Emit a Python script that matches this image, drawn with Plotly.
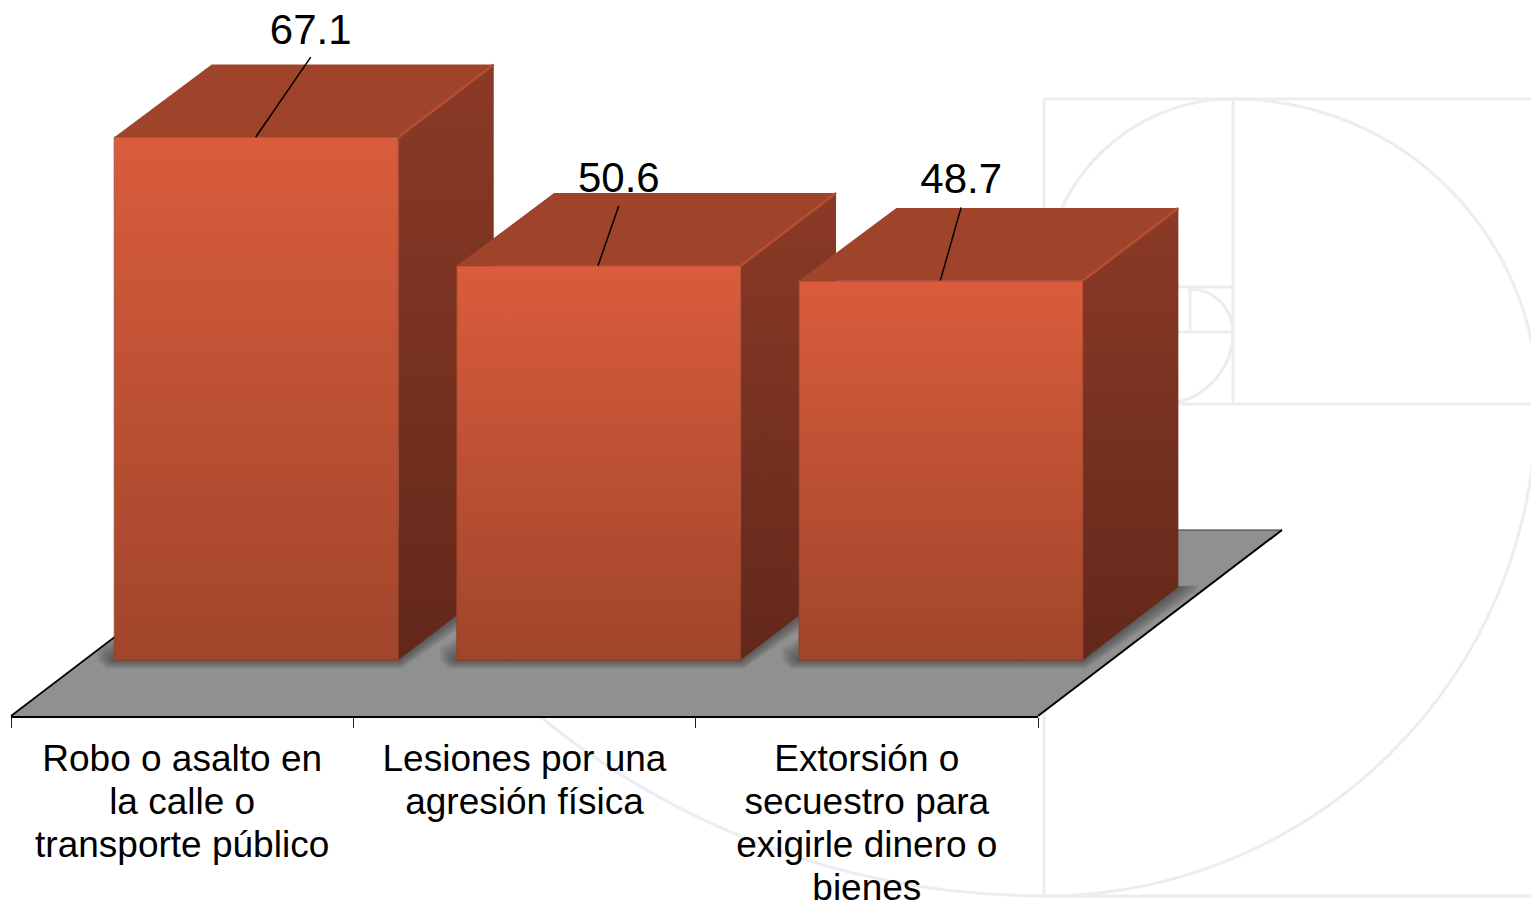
import plotly.graph_objects as go

# ---- data ----
categories = ["Robo o asalto en\nla calle o\ntransporte público",
              "Lesiones por una\nagresión física",
              "Extorsión o\nsecuestro para\nexigirle dinero o\nbienes"]
values = [67.1, 50.6, 48.7]
value_labels = ["67.1", "50.6", "48.7"]

# ---- figure frame ----
W, H = 1531, 902
X_PX = 342.33          # pixels per category
Y_PX = 7.79            # pixels per value unit
FLOOR_DX = 244 / X_PX   # oblique depth of the floor, in axis units
FLOOR_DY = 186 / Y_PX
BAR_HALF = 142 / X_PX
BAR_SHIFT = 0.7 / X_PX
BACK_INSET = 2 / X_PX   # slight perspective on the back-left corner of each top face
BAR_D0, BAR_D1 = 0.301, 0.692
L, R = -0.5, 2.5

# leader line end and label offset from each bar's front-top centre
leader_dx = [0.161, 0.061, 0.061]
leader_dy = [10.3, 7.7, 9.4]
label_dy = [3.0, 3.1, 3.2]


def proj(x, v, d):
    """Oblique projection: category x, value v, depth d (0 front .. 1 back)."""
    return x + d * FLOOR_DX, v + (d - BAR_D0) * FLOOR_DY


def poly(pts, **kw):
    xs = [p[0] for p in pts] + [pts[0][0]]
    ys = [p[1] for p in pts] + [pts[0][1]]
    return go.Scatter(x=xs, y=ys, mode="lines", fill="toself",
                      hoverinfo="skip", showlegend=False, **kw)


def line(pts, color, width):
    return go.Scatter(x=[p[0] for p in pts], y=[p[1] for p in pts], mode="lines",
                      line=dict(color=color, width=width),
                      hoverinfo="skip", showlegend=False)


def grad(top, bottom):
    return dict(type="vertical", colorscale=[[0, bottom], [1, top]])


fig = go.Figure()

# floor
fl = [proj(L, 0, 0), proj(R, 0, 0), proj(R, 0, 1), proj(L, 0, 1)]
fig.add_trace(poly(fl, fillcolor="#909090", line=dict(width=0)))
fig.add_trace(line([fl[3], fl[2]], "#3a3a3a", 1))
fig.add_trace(line([fl[0], fl[3]], "#000000", 1.6))
fig.add_trace(line([fl[1], fl[2]], "#000000", 2))

# soft shadows on the floor
for e in [17, 15, 13, 11, 9, 7, 5, 3, 1.5]:
    ex, ey = e / X_PX, e / Y_PX
    for i in range(3):
        cx = i + BAR_SHIFT
        fl_, fr_ = proj(cx - BAR_HALF, 0, BAR_D0), proj(cx + BAR_HALF, 0, BAR_D0)
        br_, bl_ = proj(cx + BAR_HALF, 0, BAR_D1), proj(cx - BAR_HALF, 0, BAR_D1)
        pts = [(fl_[0] - ex, fl_[1] - 0.0 * ey), (fl_[0] - 0.5 * ex, fl_[1] - 0.5 * ey),
               (fr_[0] + 0.2 * ex, fr_[1] - 0.5 * ey),
               (br_[0] + 1.0 * ex, br_[1] - 0.3 * ey), (br_[0] + 1.2 * ex, br_[1] + 0.1 * ey),
               (bl_[0], bl_[1]), (fl_[0] - ex, fl_[1] + 0.7 * ey)]
        fig.add_trace(poly(pts, fillcolor="rgba(40,40,40,0.075)", line=dict(width=0)))

# bars
for i, v in enumerate(values):
    cx = i + BAR_SHIFT
    a = proj(cx - BAR_HALF, 0, BAR_D0)
    b = proj(cx + BAR_HALF, 0, BAR_D0)
    c = proj(cx + BAR_HALF, v, BAR_D0)
    d = proj(cx - BAR_HALF, v, BAR_D0)
    e = proj(cx + BAR_HALF, 0, BAR_D1)
    f = proj(cx + BAR_HALF, v, BAR_D1)
    g = proj(cx - BAR_HALF + BACK_INSET, v, BAR_D1)
    fig.add_trace(poly([b, e, f, c], fillgradient=grad("#8b3a26", "#62281a"), line=dict(width=0)))
    fig.add_trace(poly([d, c, f, g], fillcolor="#a0432b", line=dict(width=0)))
    fig.add_trace(line([c, f], "#b54f33", 2.5))
    fig.add_trace(poly([a, b, c, d], fillgradient=grad("#da5c3c", "#a0452b"), line=dict(width=0)))
    fig.add_trace(line([a, d, c, b], "rgba(150,60,38,0.55)", 1.5))
    fig.add_trace(line([a, b], "#8f3d26", 1.5))

    # leader line + value label
    mid = proj(i, v, BAR_D0)
    tip = (mid[0] + leader_dx[i], mid[1] + leader_dy[i])
    fig.add_trace(line([mid, tip], "#000000", 1.5))
    fig.add_trace(go.Scatter(x=[tip[0]], y=[tip[1] + label_dy[i]], text=[value_labels[i]],
                             mode="text", textposition="middle center",
                             textfont=dict(family="Liberation Sans", size=42, color="#000000"),
                             hoverinfo="skip", showlegend=False))

# category labels, one text per line so the leading matches
LINE_STEP = 43 / Y_PX
FIRST_LINE = (660 - 762) / Y_PX
for i, c in enumerate(categories):
    rows = c.split("\n")
    fig.add_trace(go.Scatter(x=[i] * len(rows), y=[FIRST_LINE - n * LINE_STEP for n in range(len(rows))],
                             text=rows, mode="text", textposition="middle center",
                             textfont=dict(family="Liberation Sans", size=37, color="#000000"),
                             hoverinfo="skip", showlegend=False))

# invisible carrier for the category axis drawn along the floor's front edge
fig.add_trace(go.Scatter(x=[0, 1, 2], y=[0, 0, 0], xaxis="x2", yaxis="y2", mode="markers",
                         marker=dict(opacity=0), hoverinfo="skip", showlegend=False))


# ---- decorative golden-spiral backdrop ----
def px(x, y):
    return f"{x / W:.5f} {1 - y / H:.5f}"


def rule(x0, y0, x1, y1):
    return dict(type="line", xref="paper", yref="paper", layer="below",
                x0=x0 / W, y0=1 - y0 / H, x1=x1 / W, y1=1 - y1 / H,
                line=dict(color="#ecedf0", width=3))


def arc(cx, cy, r, q):
    k = 0.5523 * r
    sx, sy, ex, ey = {"ur": (0, -1, 1, 0), "lr": (1, 0, 0, 1), "ll": (0, 1, -1, 0), "ul": (-1, 0, 0, -1)}[q]
    p0 = (cx + sx * r, cy + sy * r)
    p3 = (cx + ex * r, cy + ey * r)
    p1 = (p0[0] + ex * k, p0[1] + ey * k)
    p2 = (p3[0] + sx * k, p3[1] + sy * k)
    path = f"M {px(*p0)} C {px(*p1)} {px(*p2)} {px(*p3)}"
    return dict(type="path", xref="paper", yref="paper", layer="below", path=path,
                line=dict(color="#ecedf0", width=3))


shapes = [
    rule(1044, 99, W, 99), rule(1044, 99, 1044, 896), rule(1044, 896, W, 896),
    rule(1233, 99, 1233, 404), rule(1044, 404, W, 404),
    rule(1150, 287, 1233, 287), rule(1190, 287, 1190, 332), rule(1150, 332, 1233, 332),
    arc(1233, 404, 305, "ur"), arc(1044, 404, 492, "lr"), arc(1044, 99, 797, "ll"),
    arc(1233, 288, 189, "ul"), arc(1190, 332, 43, "ur"), arc(1161, 332, 72, "lr"),
]

fig.update_layout(
    width=W, height=H, autosize=False,
    margin=dict(l=0, r=0, t=0, b=0),
    paper_bgcolor="white", plot_bgcolor="rgba(0,0,0,0)",
    showlegend=False, shapes=shapes,
    xaxis=dict(domain=[0, 1], range=[L - 11 / X_PX, R + (W - 1038) / X_PX], visible=False),
    yaxis=dict(domain=[0, 1], range=[(660 - H) / Y_PX, 660 / Y_PX], visible=False),
    xaxis2=dict(domain=[11 / W, 1038 / W], range=[L, R], anchor="y2", tickmode="array",
                tickvals=[-0.5, 0.5, 1.5, 2.5], showticklabels=False,
                ticks="outside", ticklen=10, tickwidth=1, tickcolor="#222222",
                showline=True, linecolor="#000000", linewidth=2, showgrid=False, zeroline=False),
    yaxis2=dict(domain=[1 - 716 / H, 1], range=[-56 / Y_PX, 660 / Y_PX], anchor="x2",
                visible=False),
)

fig.write_html("out.html", config={"displayModeBar": False},
               post_script="document.body.style.margin='0';document.body.style.overflow='hidden';")
